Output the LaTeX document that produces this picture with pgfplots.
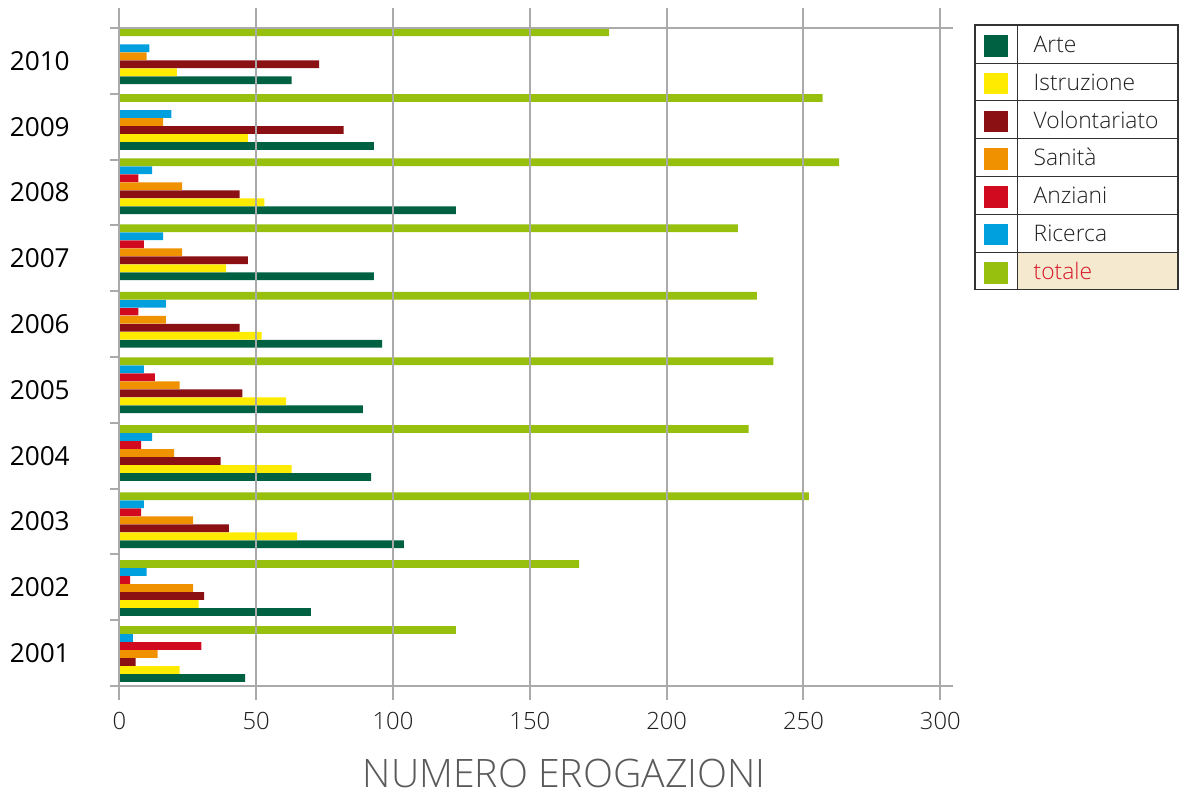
\documentclass[border=0pt]{standalone}
\usepackage{pgfplots}
\pgfplotsset{compat=1.18}
\usepackage{pgfplotstable}
\usepackage{fontspec}
\setmainfont{Open Sans}
\newfontfamily\lightfont{Open Sans Light}
\definecolor{arte}{RGB}{0,97,66}
\definecolor{istr}{RGB}{255,235,0}
\definecolor{volo}{RGB}{139,16,20}
\definecolor{sani}{RGB}{240,146,0}
\definecolor{anzi}{RGB}{209,10,32}
\definecolor{rice}{RGB}{0,160,223}
\definecolor{tota}{RGB}{151,191,13}
\definecolor{gridgray}{RGB}{170,170,170}
\definecolor{beige}{RGB}{245,233,207}
\definecolor{legline}{RGB}{50,50,50}
\definecolor{txt}{RGB}{30,30,30}
\definecolor{labgray}{RGB}{90,90,90}
\definecolor{totred}{RGB}{215,20,40}

% pos = position of the group's bars, lab = position of the year label
\pgfplotstableread{
pos year Arte Istruzione Volontariato Sanita Anziani Ricerca totale
0.986 2001 46 22 6 14 30 5 123
1.989 2002 70 29 31 27 4 10 168
3.018 2003 104 65 40 27 8 9 252
4.041 2004 92 63 37 20 8 12 230
5.070 2005 89 61 45 22 13 9 239
6.067 2006 96 52 44 17 7 17 233
7.091 2007 93 39 47 23 9 16 226
8.094 2008 123 53 44 23 7 12 263
9.071 2009 93 47 82 16 0 19 257
10.070 2010 63 21 73 10 0 11 179
}\data

\begin{document}
\begin{tikzpicture}
\useasboundingbox (0,0) rectangle (590.5pt,398pt);
\begin{axis}[
  at={(59.65pt,48pt)}, anchor=south west,
  scale only axis, width=410.5pt, height=346pt,
  xmin=0, xmax=300, ymin=0.287, ymax=10.804,
  xbar, bar width=0.117,
  axis line style={draw=none},
  axis on top,
  clip=false,
  xtick={0,50,100,150,200,250,300},
  xmajorgrids, grid style={gridgray, line width=1pt},
  ytick={1,2,3,4,5,6,7,8,9,10},
  yticklabels={2001,2002,2003,2004,2005,2006,2007,2008,2009,2010},
  minor ytick={0.5,1.5,2.5,3.5,4.5,5.5,6.5,7.5,8.5,9.5,10.5},
  major tick length=0pt, minor tick length=4.5pt, tick align=outside,
  ytick pos=left, xtick pos=bottom,
  minor tick style={gridgray, line width=1pt},
  /pgf/number format/assume math mode=true,
  xticklabel style={font=\lightfont\fontsize{11.9}{14}\selectfont, text=txt, inner sep=0pt, anchor=north, yshift=-5.85pt},
  yticklabel style={font=\fontsize{13.1}{15}\selectfont, text=black, inner sep=0pt, anchor=east, xshift=-24.6pt},
  xlabel={NUMERO EROGAZIONI},
  xlabel style={at={(axis description cs:0.542,-0.127)}, anchor=base, font=\lightfont\fontsize{19.6}{22}\selectfont, text=labgray, inner sep=0pt},
]
\addplot[fill=arte, draw=none, bar shift=-0.365] table[x=Arte, y=pos] {\data};
\addplot[fill=istr, draw=none, bar shift=-0.243] table[x=Istruzione, y=pos] {\data};
\addplot[fill=volo, draw=none, bar shift=-0.122] table[x=Volontariato, y=pos] {\data};
\addplot[fill=sani, draw=none, bar shift=0] table[x=Sanita, y=pos] {\data};
\addplot[fill=anzi, draw=none, bar shift=0.122, restrict y to domain=0:8.5] table[x=Anziani, y=pos] {\data};
\addplot[fill=rice, draw=none, bar shift=0.243, restrict y to domain=0:8.5] table[x=Ricerca, y=pos] {\data};
\addplot[fill=rice, draw=none, bar shift=0.122, restrict y to domain=8.5:11, forget plot] table[x=Ricerca, y=pos] {\data};
\addplot[fill=tota, draw=none, bar shift=0.365] table[x=totale, y=pos] {\data};
\draw[gridgray, line width=1pt] (axis cs:-3.4,0.5) -- (axis cs:304.7,0.5);
\draw[gridgray, line width=1pt] (axis cs:-3.4,10.5) -- (axis cs:304.7,10.5);
\end{axis}
\begin{scope}[x=0.5pt, y=-0.5pt, shift={(0pt,398pt)}]
  \fill[beige] (1017.7,252.3) rectangle (1178,289.3);
  \draw[legline, line width=0.75pt] (975,25) rectangle (1178,289.3);
  \draw[legline, line width=0.75pt] (1017.7,25) -- (1017.7,289.3);
  \foreach \yy in {63.3,100.7,138.3,176.7,214.3,252.3}
    \draw[legline, line width=0.75pt] (975,\yy) -- (1178,\yy);
  \foreach \c/\t [count=\i from 0] in {arte/Arte,istr/Istruzione,volo/Volontariato,sani/Sanità,anzi/Anziani,rice/Ricerca}{
    \pgfmathsetmacro{\top}{25+37.76*\i}
    \fill[\c] (984,\top+10) rectangle (1008,\top+31.7);
    \node[anchor=base west, inner sep=0pt, text=txt, font=\lightfont\fontsize{11.4}{13}\selectfont] at (1033.3,\top+27.7) {\t};
  }
  \fill[tota] (984,262.3) rectangle (1008,284);
  \node[anchor=base west, inner sep=0pt, text=totred, font=\lightfont\fontsize{11.4}{13}\selectfont] at (1033.3,280) {totale};
\end{scope}
\end{tikzpicture}
\end{document}
